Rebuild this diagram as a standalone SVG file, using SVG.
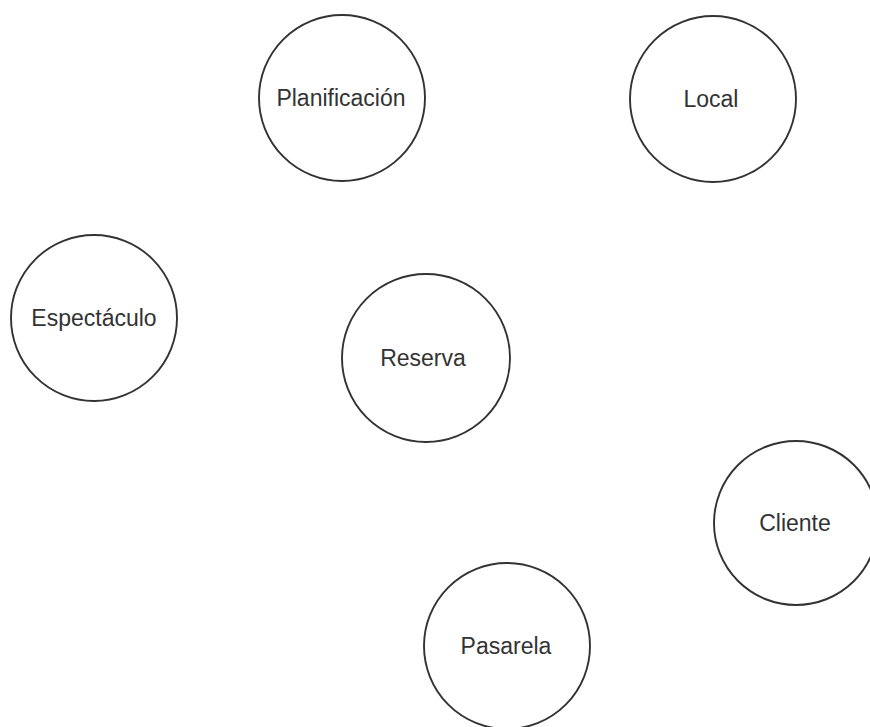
<svg xmlns="http://www.w3.org/2000/svg" width="870" height="727" viewBox="0 0 870 727">
<style>
.n{fill:#ffffff;stroke:#333333;stroke-width:1.9}
.t{font-family:"Liberation Sans",Arial,sans-serif;font-size:23px;fill:#333333;text-anchor:middle}
</style>
<rect width="870" height="727" fill="#ffffff"/>
<g id="connectors"></g>
<g id="planificacion"><circle class="n" cx="342" cy="98" r="83"/><text class="t" x="341" y="106">Planificación</text></g>
<g id="local"><circle class="n" cx="713" cy="99" r="83"/><text class="t" x="711" y="107">Local</text></g>
<g id="espectaculo"><circle class="n" cx="94" cy="318" r="83"/><text class="t" x="94" y="326">Espectáculo</text></g>
<g id="reserva"><circle class="n" cx="426" cy="358" r="84"/><text class="t" x="423" y="366">Reserva</text></g>
<g id="cliente"><circle class="n" cx="796" cy="523" r="82"/><text class="t" x="795" y="531">Cliente</text></g>
<g id="pasarela"><circle class="n" cx="507" cy="646" r="83"/><text class="t" x="506" y="654">Pasarela</text></g>
</svg>
